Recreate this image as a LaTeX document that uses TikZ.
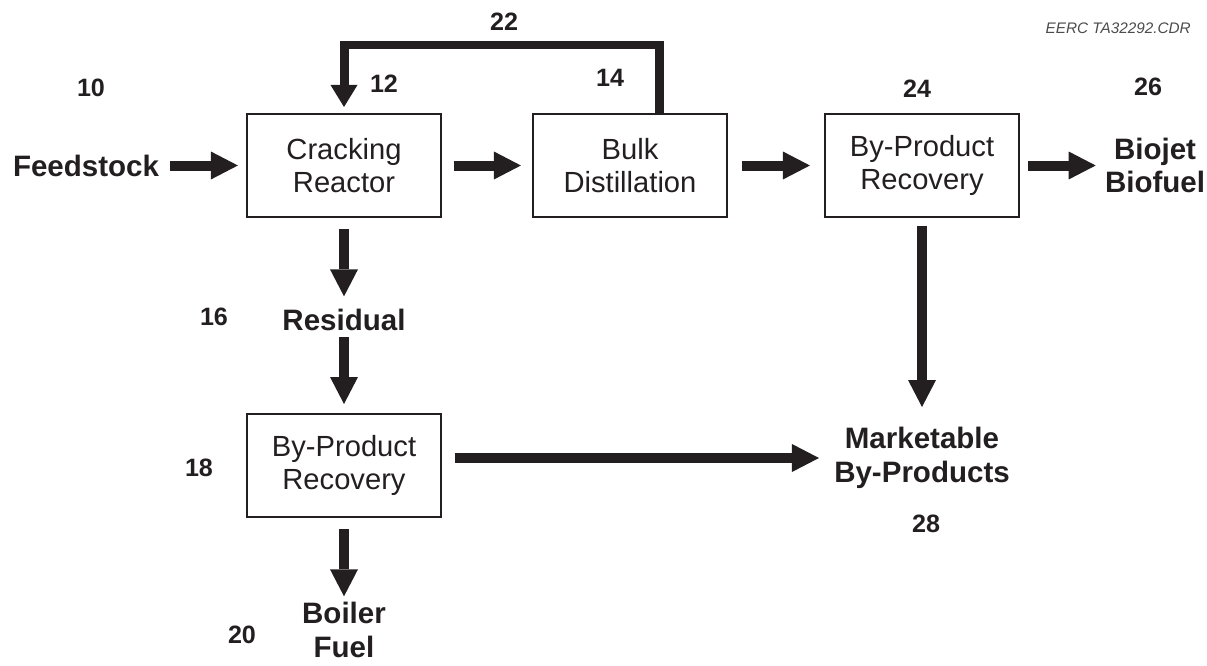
\documentclass[tikz,border=0pt]{standalone}
\usepackage{fontspec}
\setmainfont{Liberation Sans}
\usetikzlibrary{arrows.meta}

\definecolor{ink}{RGB}{35,31,32}

\tikzset{
	unit/.style = {draw = ink, line width = 1.2pt, minimum width = 3.88cm, minimum height = 2.06cm, align = center, text = ink, font = \fontsize{16.6}{18.8}\selectfont},
	stream/.style = {inner sep = 0pt, align = center, text = ink, font = \fontsize{16.8}{19.2}\selectfont\bfseries},
	tag/.style = {inner sep = 0pt, text = ink, font = \fontsize{14.3}{16}\selectfont\bfseries},
	flow/.style = {draw = ink, line width = 0.2cm}
}

\begin{document}
\begin{tikzpicture}[x = 0.02cm, y = -0.02cm, > = {Triangle[width = 0.56cm, length = 0.54cm, line width = 0pt]}]

	\useasboundingbox (0, 0) rectangle (1207, 666);

	% Process units

	\node [unit] (crack) at (344, 165.5) {Cracking\\Reactor};
	\node [unit] (bulk)  at (630, 165.5) {Bulk\\Distillation};
	\node [unit] (recov) at (922, 165.5) {By-Product\\Recovery};
	\node [unit] (resrec) at (344, 465.5) {By-Product\\Recovery};

	% Streams

	\node [stream] (feed)   at (86, 165.5)   {Feedstock};
	\node [stream] (jet)    at (1155, 165.5) {Biojet\\Biofuel};
	\node [stream] (resid)  at (344, 320)    {Residual};
	\node [stream] (boiler) at (344, 630)    {Boiler\\Fuel};
	\node [stream] (market) at (922, 458)    {Marketable\\By-Products};

	% Reference numbers

	\node [tag] (n10) at (91, 88)   {10};
	\node [tag] (n12) at (384, 84)  {12};
	\node [tag] (n14) at (610, 78)  {14};
	\node [tag] (n16) at (214, 317) {16};
	\node [tag] (n18) at (199, 468) {18};
	\node [tag] (n20) at (242, 635) {20};
	\node [tag] (n22) at (504, 22)  {22};
	\node [tag] (n24) at (917, 89)  {24};
	\node [tag] (n26) at (1148, 87) {26};
	\node [tag] (n28) at (926, 524) {28};

	\node [anchor = east, inner sep = 0pt, text = black!70, font = \fontsize{8.7}{10}\selectfont\itshape] (drawing) at (1191, 28) {EERC TA32292.CDR};

	% Flow arrows

	\begin{scope}[flow, ->]

		% Main line

		\draw [shorten <= 6.3pt, shorten >= 4.6pt] (feed) -- (crack);
		\draw [shorten <= 6.8pt, shorten >= 6.3pt] (crack) -- (bulk);
		\draw [shorten <= 8pt, shorten >= 8pt] (bulk) -- (recov);
		\draw [shorten <= 4.6pt, shorten >= 5.1pt] (recov) -- (jet);

		% Residual line

		\draw [shorten <= 6.3pt, shorten >= 7.1pt] (crack) -- (resid);
		\draw [shorten <= 3.4pt, shorten >= 5.1pt] (resid) -- (resrec);
		\draw [shorten <= 6.3pt, shorten >= 3.2pt] (resrec) -- (boiler);

		% By-products

		\draw [shorten <= 4.6pt, shorten >= 11.4pt] (recov) -- (market);
		\draw [shorten <= 7.1pt, shorten >= 8.5pt] (resrec.east |- market) -- (market);

	\end{scope}

	% Recycle

	\coordinate (loop) at (500, 45);
	\draw [flow, line width = 0.18cm, -{Triangle[width = 0.54cm, length = 0.44cm, line width = 0pt]}, shorten >= 3.4pt] ([xshift = 0.58cm] bulk.north) |- (loop) -| (crack.north);

\end{tikzpicture}
\end{document}
